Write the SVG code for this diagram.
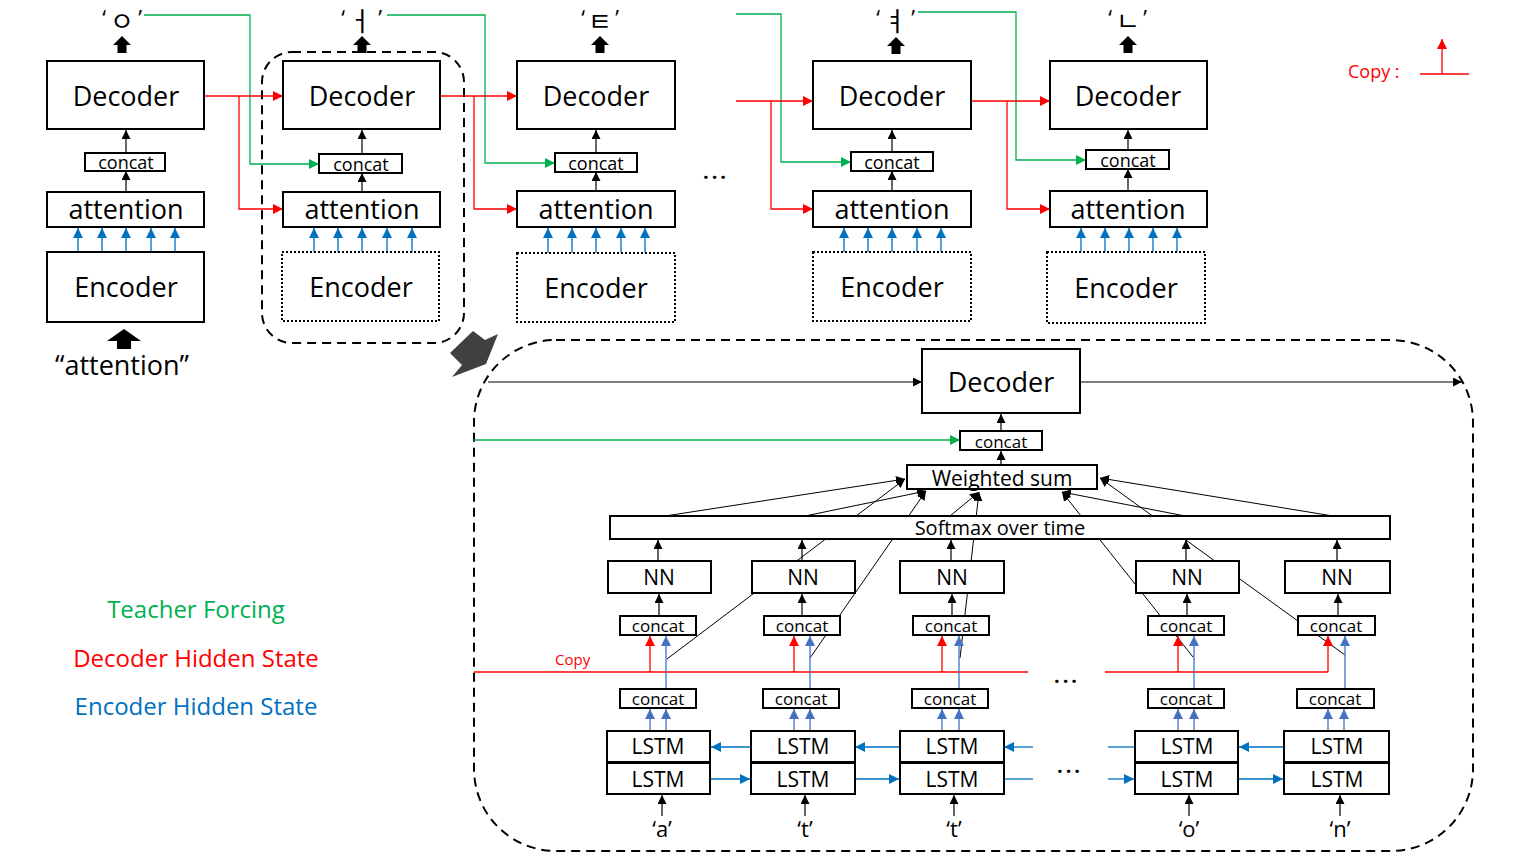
<svg xmlns="http://www.w3.org/2000/svg" width="1513" height="859" viewBox="0 0 1513 859">
<style>
.box{fill:#fff;stroke:#000;stroke-width:2}
.dot{fill:#fff;stroke:#000;stroke-width:2;stroke-dasharray:2 2}
.dash{fill:none;stroke:#000;stroke-width:2;stroke-dasharray:9 6}
text{font-family:"Open Sans","Noto Sans",sans-serif;fill:#000;text-anchor:middle}
.f27{font-size:27px}
.f18{font-size:18px}
.f17{font-size:17px}
.f21{font-size:21px}
.f20{font-size:20px}
.kc{font-family:"Noto Sans CJK KR","Open Sans",sans-serif;font-size:26px}
.kv{font-family:"Noto Sans CJK KR","Open Sans",sans-serif;font-size:26px}
.q{font-size:22px}
.bk{fill:none;stroke:#000;stroke-width:1.2;marker-end:url(#mb)}
.rd{fill:none;stroke:#f00;stroke-width:1.3}
.rda{fill:none;stroke:#f00;stroke-width:1.3;marker-end:url(#mr)}
.gr{fill:none;stroke:#00b050;stroke-width:1.3;marker-end:url(#mg)}
.bl{fill:none;stroke:#0070c0;stroke-width:1.3;marker-end:url(#ml)}
.bl0{fill:none;stroke:#0070c0;stroke-width:1.3}
.bm{fill:none;stroke:#4472c4;stroke-width:1.3;marker-end:url(#mm)}
.att{fill:none;stroke:#000;stroke-width:1;marker-end:url(#mb)}
.blk{fill:#000}
</style>
<defs>
<marker id="mb" viewBox="0 0 10 10" refX="10" refY="5" markerWidth="9" markerHeight="9" orient="auto" markerUnits="userSpaceOnUse"><path d="M0,0L10,5L0,10z" fill="#000"/></marker>
<marker id="mr" viewBox="0 0 10 10" refX="10" refY="5" markerWidth="10" markerHeight="10" orient="auto" markerUnits="userSpaceOnUse"><path d="M0,0L10,5L0,10z" fill="#f00"/></marker>
<marker id="mg" viewBox="0 0 10 10" refX="10" refY="5" markerWidth="10" markerHeight="10" orient="auto" markerUnits="userSpaceOnUse"><path d="M0,0L10,5L0,10z" fill="#00b050"/></marker>
<marker id="ml" viewBox="0 0 10 10" refX="10" refY="5" markerWidth="10" markerHeight="10" orient="auto" markerUnits="userSpaceOnUse"><path d="M0,0L10,5L0,10z" fill="#0070c0"/></marker>
<marker id="mm" viewBox="0 0 10 10" refX="10" refY="5" markerWidth="10" markerHeight="10" orient="auto" markerUnits="userSpaceOnUse"><path d="M0,0L10,5L0,10z" fill="#4472c4"/></marker>
<path id="up" d="M0,-9L9,0L4.5,0L4.5,8L-4.5,8L-4.5,0L-9,0Z"/>
</defs>

<!-- ===== unrolled decoder steps (top row) ===== -->
<g id="connectors-top">
  <!-- teacher forcing -->
  <path class="gr" d="M144,15H250V164H319"/>
  <path class="gr" d="M387,15H485V163H555"/>
  <path class="gr" d="M736,14H781V162H851"/>
  <path class="gr" d="M918,12H1016V160H1086"/>
  <!-- decoder hidden state -->
  <path class="rda" d="M204,96H283"/>
  <path class="rda" d="M239,96V209H283"/>
  <path class="rda" d="M440,96H517"/>
  <path class="rda" d="M474,96V209H517"/>
  <path class="rda" d="M736,101H813"/>
  <path class="rda" d="M771,101V209H813"/>
  <path class="rda" d="M971,101H1050"/>
  <path class="rda" d="M1007,101V209H1050"/>
  <!-- attention -> concat -> decoder -->
  <path class="bk" d="M126,192V171"/><path class="bk" d="M126,153V130"/>
  <path class="bk" d="M362,192V173"/><path class="bk" d="M362,154V130"/>
  <path class="bk" d="M596,191V172"/><path class="bk" d="M596,153V130"/>
  <path class="bk" d="M892,191V171"/><path class="bk" d="M892,152V130"/>
  <path class="bk" d="M1128,191V169"/><path class="bk" d="M1128,150V130"/>
  <!-- encoder states -->
  <path class="bl" d="M78,252V228"/><path class="bl" d="M102,252V228"/><path class="bl" d="M126,252V228"/><path class="bl" d="M151,252V228"/><path class="bl" d="M175,252V228"/>
  <path class="bl" d="M314,252V228"/><path class="bl" d="M338,252V228"/><path class="bl" d="M362,252V228"/><path class="bl" d="M387,252V228"/><path class="bl" d="M412,252V228"/>
  <path class="bl" d="M548,253V228"/><path class="bl" d="M572,253V228"/><path class="bl" d="M596,253V228"/><path class="bl" d="M621,253V228"/><path class="bl" d="M645,253V228"/>
  <path class="bl" d="M844,252V228"/><path class="bl" d="M868,252V228"/><path class="bl" d="M892,252V228"/><path class="bl" d="M917,252V228"/><path class="bl" d="M941,252V228"/>
  <path class="bl" d="M1081,252V228"/><path class="bl" d="M1105,252V228"/><path class="bl" d="M1129,252V228"/><path class="bl" d="M1153,252V228"/><path class="bl" d="M1177,252V228"/>
</g>

<rect id="step-frame" class="dash" x="262" y="52" width="202" height="291" rx="30"/>

<g id="out1"><text class="q" x="104" y="26">‘</text><text class="kc" x="122" y="31">ㅇ</text><text class="q" x="140" y="26">’</text><use href="#up" x="122" y="45"/></g>
<g id="out2"><text class="q" x="343" y="26">‘</text><text class="kv" x="360" y="31">ㅓ</text><text class="q" x="380" y="26">’</text><use href="#up" x="362" y="45"/></g>
<g id="out3"><text class="q" x="583" y="26">‘</text><text class="kc" x="600" y="31">ㅌ</text><text class="q" x="617" y="26">’</text><use href="#up" x="600" y="45"/></g>
<g id="out4"><text class="q" x="878" y="26">‘</text><text class="kv" x="895" y="31">ㅕ</text><text class="q" x="913" y="26">’</text><use href="#up" x="896" y="46"/></g>
<g id="out5"><text class="q" x="1110" y="26">‘</text><text class="kc" x="1128" y="31">ㄴ</text><text class="q" x="1145" y="26">’</text><use href="#up" x="1128" y="45"/></g>

<g id="dec1"><rect class="box" x="47" y="61" width="157" height="68"/><text class="f27" x="126" y="106">Decoder</text></g>
<g id="cat1"><rect class="box" x="85" y="153" width="80" height="18"/><text class="f18" x="126" y="169">concat</text></g>
<g id="att1"><rect class="box" x="47" y="192" width="157" height="35"/><text class="f27" x="126" y="219">attention</text></g>
<g id="enc1"><rect class="box" x="47" y="252" width="157" height="70"/><text class="f27" x="126" y="297">Encoder</text></g>

<g id="dec2"><rect class="box" x="283" y="61" width="157" height="68"/><text class="f27" x="362" y="106">Decoder</text></g>
<g id="cat2"><rect class="box" x="319" y="154" width="83" height="19"/><text class="f18" x="361" y="171">concat</text></g>
<g id="att2"><rect class="box" x="283" y="192" width="157" height="35"/><text class="f27" x="362" y="219">attention</text></g>
<g id="enc2"><rect class="dot" x="282" y="252" width="157" height="69"/><text class="f27" x="361" y="297">Encoder</text></g>

<g id="dec3"><rect class="box" x="517" y="61" width="158" height="68"/><text class="f27" x="596" y="106">Decoder</text></g>
<g id="cat3"><rect class="box" x="555" y="153" width="82" height="19"/><text class="f18" x="596" y="170">concat</text></g>
<g id="att3"><rect class="box" x="517" y="191" width="158" height="36"/><text class="f27" x="596" y="219">attention</text></g>
<g id="enc3"><rect class="dot" x="517" y="253" width="158" height="69"/><text class="f27" x="596" y="298">Encoder</text></g>

<text id="gap-top" class="f20" x="716" y="179" style="letter-spacing:3px;font-weight:bold">...</text>

<g id="dec4"><rect class="box" x="813" y="61" width="158" height="68"/><text class="f27" x="892" y="106">Decoder</text></g>
<g id="cat4"><rect class="box" x="851" y="152" width="82" height="19"/><text class="f18" x="892" y="169">concat</text></g>
<g id="att4"><rect class="box" x="813" y="191" width="158" height="36"/><text class="f27" x="892" y="219">attention</text></g>
<g id="enc4"><rect class="dot" x="813" y="252" width="158" height="69"/><text class="f27" x="892" y="297">Encoder</text></g>

<g id="dec5"><rect class="box" x="1050" y="61" width="157" height="68"/><text class="f27" x="1128" y="106">Decoder</text></g>
<g id="cat5"><rect class="box" x="1086" y="150" width="83" height="19"/><text class="f18" x="1128" y="167">concat</text></g>
<g id="att5"><rect class="box" x="1050" y="191" width="157" height="36"/><text class="f27" x="1128" y="219">attention</text></g>
<g id="enc5"><rect class="dot" x="1047" y="252" width="158" height="71"/><text class="f27" x="1126" y="298">Encoder</text></g>

<g id="input-word">
  <path class="blk" d="M124,329L141,341L131,341L131,349L117,349L117,341L107,341Z"/>
  <text class="f27" x="122" y="375">“attention”</text>
</g>

<g id="copy-legend">
  <text x="1348" y="78" style="font-size:18px;fill:#f00;text-anchor:start">Copy :</text>
  <path class="rd" d="M1420,74H1469"/>
  <path class="rda" d="M1442,74V39"/>
</g>

<g id="legend">
  <text x="196" y="618" style="font-size:24px;fill:#00b050">Teacher Forcing</text>
  <text x="196" y="667" style="font-size:24px;fill:#f00">Decoder Hidden State</text>
  <text x="196" y="715" style="font-size:24px;fill:#0070c0">Encoder Hidden State</text>
</g>

<!-- zoom pointer -->
<polygon id="pointer" points="473,331 485,340 498,334 486,364 452,377 462,365 450,353" fill="#404040"/>

<!-- ===== expanded attention step ===== -->
<rect id="detail-frame" class="dash" x="474" y="340" width="999" height="511" rx="82"/>

<g id="connectors-detail">
  <path class="bk" d="M488,382H922"/>
  <path class="bk" d="M1080,382H1462"/>
  <path class="gr" d="M474,440H960"/>
  <path class="bk" d="M1001,431V414"/>
  <path class="bk" d="M1001,465V451"/>
  <!-- softmax weights -->
  <path class="att" d="M665,516L905,479"/>
  <path class="att" d="M805,516L926,491"/>
  <path class="att" d="M950,516L979,492"/>
  <path class="att" d="M1185,516L1062,492"/>
  <path class="att" d="M1333,516L1100,478"/>
  <!-- encoder states to weighted sum -->
  <path class="att" d="M667,659L905,479"/>
  <path class="att" d="M810,658L926,491"/>
  <path class="att" d="M960,658L979,492"/>
  <path class="att" d="M1193,657L1062,492"/>
  <path class="att" d="M1345,655L1100,478"/>
  <!-- NN -> softmax -->
  <path class="bk" d="M658,561V540"/><path class="bk" d="M802,561V540"/><path class="bk" d="M951,561V540"/><path class="bk" d="M1186,561V540"/><path class="bk" d="M1337,561V540"/>
  <!-- concat -> NN -->
  <path class="bk" d="M659,616V594"/><path class="bk" d="M802,616V594"/><path class="bk" d="M952,616V594"/><path class="bk" d="M1187,616V594"/><path class="bk" d="M1338,616V594"/>
  <!-- copied decoder state -->
  <path class="rd" d="M474,672H1028"/>
  <path class="rd" d="M1105,672H1328"/>
  <path class="rda" d="M650,672V636"/><path class="rda" d="M794,672V636"/><path class="rda" d="M942,672V636"/><path class="rda" d="M1178,672V636"/><path class="rda" d="M1328,672V636"/>
  <!-- bidirectional states -->
  <path class="bm" d="M666,689V636"/><path class="bm" d="M810,689V636"/><path class="bm" d="M959,689V636"/><path class="bm" d="M1194,689V636"/><path class="bm" d="M1345,689V636"/>
  <path class="bm" d="M650,731V709"/><path class="bm" d="M794,731V709"/><path class="bm" d="M942,731V709"/><path class="bm" d="M1178,731V709"/><path class="bm" d="M1328,731V709"/>
  <path class="bm" d="M666,762V709"/><path class="bm" d="M810,762V709"/><path class="bm" d="M959,762V709"/><path class="bm" d="M1194,762V709"/><path class="bm" d="M1344,762V709"/>
  <!-- backward LSTM -->
  <path class="bl" d="M750,747H711"/><path class="bl" d="M899,747H855"/><path class="bl" d="M1033,747H1004"/><path class="bl0" d="M1135,747H1108"/><path class="bl" d="M1284,747H1239"/>
  <!-- forward LSTM -->
  <path class="bl" d="M711,779H750"/><path class="bl" d="M855,779H899"/><path class="bl0" d="M1004,779H1033"/><path class="bl" d="M1108,779H1134"/><path class="bl" d="M1239,779H1283"/>
  <!-- inputs -->
  <path class="bk" d="M662,816V795"/><path class="bk" d="M805,816V795"/><path class="bk" d="M954,816V795"/><path class="bk" d="M1189,816V795"/><path class="bk" d="M1340,816V795"/>
</g>

<text x="555" y="665" style="font-size:15px;fill:#f00;text-anchor:start">Copy</text>

<g id="dec-d"><rect class="box" x="922" y="349" width="158" height="64"/><text class="f27" x="1001" y="392">Decoder</text></g>
<g id="cat-d"><rect class="box" x="960" y="431" width="82" height="19"/><text class="f17" x="1001" y="448">concat</text></g>
<g id="wsum"><rect class="box" x="907" y="465" width="190" height="24"/><text class="f21" x="1002" y="486">Weighted sum</text></g>
<g id="softmax"><rect class="box" x="610" y="516" width="780" height="23"/><text class="f20" x="1000" y="535">Softmax over time</text></g>

<g id="nn1"><rect class="box" x="608" y="561" width="103" height="32"/><text class="f21" x="659" y="585">NN</text></g>
<g id="nn2"><rect class="box" x="752" y="561" width="103" height="32"/><text class="f21" x="803" y="585">NN</text></g>
<g id="nn3"><rect class="box" x="900" y="561" width="104" height="32"/><text class="f21" x="952" y="585">NN</text></g>
<g id="nn4"><rect class="box" x="1136" y="561" width="103" height="32"/><text class="f21" x="1187" y="585">NN</text></g>
<g id="nn5"><rect class="box" x="1285" y="561" width="105" height="32"/><text class="f21" x="1337" y="585">NN</text></g>

<g id="ca1"><rect class="box" x="620" y="616" width="76" height="19"/><text class="f17" x="658" y="632">concat</text></g>
<g id="ca2"><rect class="box" x="764" y="616" width="76" height="19"/><text class="f17" x="802" y="632">concat</text></g>
<g id="ca3"><rect class="box" x="913" y="616" width="76" height="19"/><text class="f17" x="951" y="632">concat</text></g>
<g id="ca4"><rect class="box" x="1148" y="616" width="76" height="19"/><text class="f17" x="1186" y="632">concat</text></g>
<g id="ca5"><rect class="box" x="1298" y="616" width="77" height="19"/><text class="f17" x="1336" y="632">concat</text></g>

<text id="gap-mid" class="f20" x="1067" y="683" style="letter-spacing:3px;font-weight:bold">...</text>

<g id="cb1"><rect class="box" x="620" y="689" width="76" height="19"/><text class="f17" x="658" y="705">concat</text></g>
<g id="cb2"><rect class="box" x="763" y="689" width="76" height="19"/><text class="f17" x="801" y="705">concat</text></g>
<g id="cb3"><rect class="box" x="912" y="689" width="76" height="19"/><text class="f17" x="950" y="705">concat</text></g>
<g id="cb4"><rect class="box" x="1148" y="689" width="76" height="19"/><text class="f17" x="1186" y="705">concat</text></g>
<g id="cb5"><rect class="box" x="1297" y="689" width="77" height="19"/><text class="f17" x="1335" y="705">concat</text></g>

<g id="lstm1"><rect class="box" x="607" y="731" width="103" height="31"/><rect class="box" x="607" y="763" width="103" height="31"/><text class="f21" x="658" y="754">LSTM</text><text class="f21" x="658" y="787">LSTM</text></g>
<g id="lstm2"><rect class="box" x="751" y="731" width="104" height="31"/><rect class="box" x="751" y="763" width="104" height="31"/><text class="f21" x="803" y="754">LSTM</text><text class="f21" x="803" y="787">LSTM</text></g>
<g id="lstm3"><rect class="box" x="900" y="731" width="104" height="31"/><rect class="box" x="900" y="763" width="104" height="31"/><text class="f21" x="952" y="754">LSTM</text><text class="f21" x="952" y="787">LSTM</text></g>
<g id="lstm4"><rect class="box" x="1135" y="731" width="103" height="31"/><rect class="box" x="1135" y="763" width="103" height="31"/><text class="f21" x="1187" y="754">LSTM</text><text class="f21" x="1187" y="787">LSTM</text></g>
<g id="lstm5"><rect class="box" x="1284" y="731" width="105" height="31"/><rect class="box" x="1284" y="763" width="105" height="31"/><text class="f21" x="1337" y="754">LSTM</text><text class="f21" x="1337" y="787">LSTM</text></g>

<text id="gap-low" class="f20" x="1070" y="773" style="letter-spacing:3px;font-weight:bold">...</text>

<g id="chars">
  <text x="662" y="837" style="font-size:22px">‘a’</text>
  <text x="805" y="837" style="font-size:22px">‘t’</text>
  <text x="954" y="837" style="font-size:22px">‘t’</text>
  <text x="1189" y="837" style="font-size:22px">‘o’</text>
  <text x="1340" y="837" style="font-size:22px">‘n’</text>
</g>
</svg>
